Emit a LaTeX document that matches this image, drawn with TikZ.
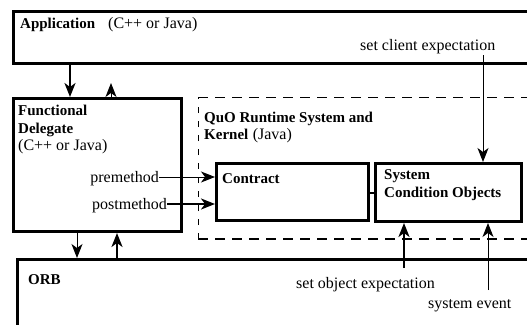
\documentclass[tikz,border=0pt]{standalone}
\usepackage{fontspec}
\setmainfont{Liberation Serif}
\usetikzlibrary{arrows.meta}
\tikzset{
  box/.style={draw, line width=3pt, rectangle, inner sep=0pt, anchor=north west},
  lbl/.style={inner sep=0pt, anchor=base west, font=\fontsize{16}{19}\selectfont},
  blbl/.style={inner sep=0pt, anchor=base west, font=\fontsize{15}{18}\selectfont\bfseries},
  thinline/.style={line width=1pt},
  thickline/.style={line width=2pt},
  tip/.style={-{Stealth[length=14pt,width=11pt,inset=4pt]}},
  thinarr/.style={line width=1pt, tip},
  thickarr/.style={line width=2pt, tip},
  thindash/.style={line width=1pt, dash pattern=on 10pt off 7pt},
  vdash/.style={line width=1pt, dash pattern=on 6pt off 8pt},
  thickdash/.style={line width=2.5pt, dash pattern=on 10pt off 7pt},
}
\begin{document}
\begin{tikzpicture}[x=1pt,y=-1pt]
\clip (0,0) rectangle (527,324);
\fill[white] (0,0) rectangle (527,324);

% main boxes
\node[box, minimum width=530pt, minimum height=52pt]  (app)      at (12,10)  {};
\node[box, minimum width=168pt, minimum height=133pt] (fd)       at (12,97)  {};
\node[box, minimum width=152pt, minimum height=57pt]  (contract) at (215,162) {};
\node[box, minimum width=146pt, minimum height=58pt]  (sco)      at (374,162) {};
\node[box, minimum width=530pt, minimum height=80pt]  (orb)      at (16,258) {};

% QuO runtime region (dashed, open to the right)
\coordinate (quoNW) at (198,97);
\coordinate (quoSW) at (198,239);
\coordinate (quoNE) at (535,97);
\coordinate (quoSE) at (535,239);
\draw[vdash] (quoSW) -- (quoNW);
\draw[thindash] (quoNW) -- (quoNE);
\draw[thickdash] (quoSW) -- (quoSE);

% labels
\node[blbl] (appT)  at (20,28)  {Application};
\node[lbl]  (appL)  at (108,28) {(C++ or Java)};
\node[blbl] (fdT1)  at (18,115) {Functional};
\node[blbl] (fdT2)  at (18,133) {Delegate};
\node[lbl]  (fdL)   at (18,150) {(C++ or Java)};
\node[blbl] (quoT1) at (204,122) {QuO Runtime System and};
\node[blbl] (quoT2) at (204,139) {Kernel};
\node[lbl, anchor=base west] (quoL) at (quoT2.base east) {\ (Java)};
\node[blbl] (conT)  at (222,183) {Contract};
\node[blbl] (scoT1) at (384,179) {System};
\node[blbl] (scoT2) at (384,197) {Condition Objects};
\node[blbl] (orbT)  at (28,284)  {ORB};
\node[lbl, anchor=base east] (pre)  at (159,182) {premethod};
\node[lbl, anchor=base east] (post) at (167,209) {postmethod};
\node[lbl] (client) at (360,50)  {set client expectation};
\node[lbl] (objexp) at (296,288) {set object expectation};
\node[lbl] (sysev)  at (428,308) {system event};

% application <-> functional delegate
\coordinate (colA) at (70,0);
\coordinate (upTip) at (111,83);
\draw[thickarr] (app.south -| colA) -- (fd.north -| colA);
\draw[thinarr] (fd.north -| upTip) -- (upTip);

% functional delegate <-> ORB
\coordinate (colB) at (77,0);
\coordinate (colC) at (117,0);
\draw[thinarr] (fd.south -| colB) -- (orb.north -| colB);
\draw[thickarr] (orb.north -| colC) -- (fd.south -| colC);

% premethod / postmethod calls into the contract
\coordinate (preRow) at (0,177);
\coordinate (postRow) at (0,204);
\draw[thinarr] (pre.east |- preRow) -- (contract.west |- preRow);
\draw[thickarr] (post.east |- postRow) -- (contract.west |- postRow);

% contract -- system condition objects
\coordinate (link) at (0,193);
\draw[thickline] (contract.east |- link) -- (sco.west |- link);

% expectations and events on the system condition objects
\coordinate (clientStart) at (483,55);
\coordinate (objStart) at (404,268);
\coordinate (sysStart) at (488,290);
\draw[thinarr] (clientStart) -- (sco.north -| clientStart);
\draw[thickarr] (objStart) -- (sco.south -| objStart);
\draw[thinarr] (sysStart) -- (sco.south -| sysStart);
\end{tikzpicture}
\end{document}
